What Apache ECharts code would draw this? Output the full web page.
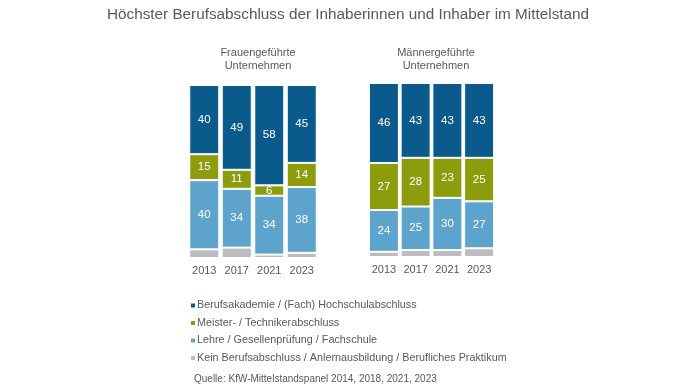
<!DOCTYPE html>
<html><head><meta charset="utf-8">
<script src="https://cdn.jsdelivr.net/npm/echarts@6/dist/echarts.min.js"></script>
<style>html,body{margin:0;padding:0;background:#fff}#c{width:696px;height:392px}</style>
</head><body><div id="c"></div>
<script>
const years = ['2013', '2017', '2021', '2023'];
const seriesNames = [
  'Berufsakademie / (Fach) Hochschulabschluss',
  'Meister- / Technikerabschluss',
  'Lehre / Gesellenprüfung / Fachschule',
  'Kein Berufsabschluss / Anlernausbildung / Berufliches Praktikum'
];
const womenHochschule = [40, 49, 58, 45];
const womenMeister = [15, 11, 6, 14];
const womenLehre = [40, 34, 34, 38];
const womenKein = [5, 6, 2, 3];
const menHochschule = [46, 43, 43, 43];
const menMeister = [27, 28, 23, 25];
const menLehre = [24, 25, 30, 27];
const menKein = [3, 4, 4, 5];
const colors = ['#0B5A8C', '#8C9C0C', '#5DA3CB', '#BDBDBF'];

const font = 'Liberation Sans, Arial, sans-serif';
const txt = '#595959';

function mk(name, data, idx, grid, color) {
  return {
    name: name, type: 'bar', stack: 's' + grid, xAxisIndex: grid, yAxisIndex: grid,
    data: data, barWidth: 30,
    itemStyle: { color: color, borderColor: '#fff', borderWidth: 1 },
    label: { show: idx < 3, position: 'inside', color: '#fff', fontSize: 11.5, fontFamily: font },
    emphasis: { disabled: true }
  };
}
const series = [];
const order = [3, 2, 1, 0];
const wData = [womenHochschule, womenMeister, womenLehre, womenKein];
const mData = [menHochschule, menMeister, menLehre, menKein];
order.forEach(i => series.push(mk(seriesNames[i], wData[i], i, 0, colors[i])));
order.forEach(i => series.push(mk(seriesNames[i], mData[i], i, 1, colors[i])));

const chart = echarts.init(document.getElementById('c'));
const xa = (g) => ({
  type: 'category', gridIndex: g, data: years,
  axisLine: { show: false }, axisTick: { show: false },
  axisLabel: { color: txt, fontSize: 11, fontFamily: font, margin: 7, interval: 0 }
});
const ya = (g) => ({ type: 'value', gridIndex: g, min: 0, max: 100, show: false });
chart.setOption({
  animation: false,
  color: colors,
  title: [
    { text: 'Höchster Berufsabschluss der Inhaberinnen und Inhaber im Mittelstand', left: 'center', top: 2,
      textStyle: { color: txt, fontSize: 15.3, fontWeight: 'normal', fontFamily: font } },
    { text: 'Frauengeführte\nUnternehmen', left: 253, textAlign: 'center', top: 41,
      textStyle: { color: txt, fontSize: 11, fontWeight: 'normal', fontFamily: font, lineHeight: 13 } },
    { text: 'Männergeführte\nUnternehmen', left: 431, textAlign: 'center', top: 41,
      textStyle: { color: txt, fontSize: 11, fontWeight: 'normal', fontFamily: font, lineHeight: 13 } },
    { text: 'Quelle: KfW-Mittelstandspanel 2014, 2018, 2021, 2023', left: 189, top: 369,
      textStyle: { color: txt, fontSize: 10, fontWeight: 'normal', fontFamily: font } }
  ],
  legend: {
    orient: 'vertical', left: 184, top: 295, icon: 'rect', itemWidth: 6, itemHeight: 6, itemGap: 6.5,
    data: seriesNames,
    textStyle: { color: txt, fontSize: 10.8, fontFamily: font, padding: [0, 0, 0, -4] },
    selectedMode: false
  },
  grid: [
    { left: 188, width: 130, top: 85, height: 173 },
    { left: 368, width: 127, top: 83, height: 174 }
  ],
  xAxis: [xa(0), xa(1)],
  yAxis: [ya(0), ya(1)],
  series: series
});
</script></body></html>
